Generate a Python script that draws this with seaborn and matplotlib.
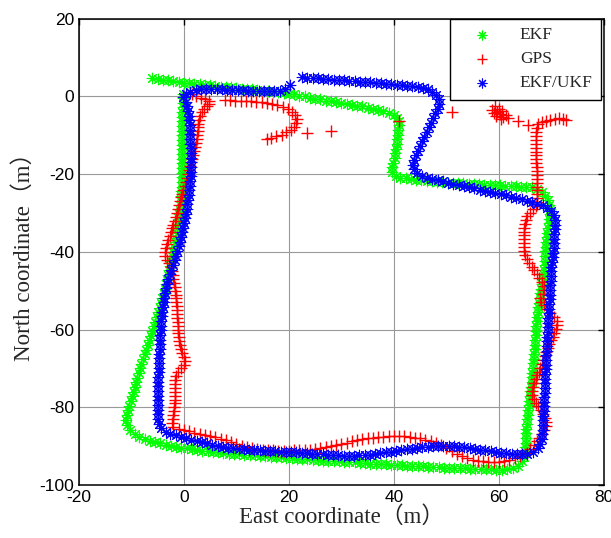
import matplotlib
matplotlib.use('Agg')
import matplotlib.pyplot as plt
import seaborn as sns

# EKF track (green)
ekf_east = [-6, -5, -4, -3, -2, -1, 0, 1, 2, 3, 4, 5, 6, 7, 8, 9, 10, 11, 12, 13, 14, 15, 16, 17, 18, 19, 20, 21, 22, 23,
            24, 25, 26, 27, 28, 29, 30, 31, 32, 33, 34, 35, 36, 37, 38, 39, 40, 40.6, 40.9,
            40.9, 40.8, 40.7, 40.6, 40.5, 40.4, 40.2, 40.1, 39.9, 39.7, 39.6,
            40.3, 41.2, 42.2, 43.2, 44.2, 45.2, 46.2, 47.2, 48.2, 49.2, 50.2, 51.2, 52.2, 53.2, 54.2, 55.2, 56.2, 57.2, 58.2,
            59.2, 60.2, 61.2, 62.2, 63.2, 64.2, 65.2, 66.2, 67.2,
            68.1, 68.8, 69.3, 69.6, 69.7, 69.7, 69.6, 69.5, 69.3, 69.2, 69.1, 69.0, 68.9, 68.8, 68.8, 68.7, 68.7, 68.6, 68.5, 68.3,
            68.2, 68.0, 67.9, 67.8, 67.6, 67.5, 67.4, 67.3, 67.2, 67.1, 67.1, 67.0, 66.9, 66.8, 66.8, 66.7, 66.6, 66.5, 66.4, 66.3,
            66.3, 66.2, 66.1, 66.0, 65.9, 65.8, 65.7, 65.6, 65.5, 65.4, 65.3, 65.2, 65.2, 65.1, 65.1, 65.0, 64.9, 64.7, 64.3, 63.6,
            62.6,
            61.5, 60.5, 59.5, 58.5, 57.5, 56.5, 55.5, 54.5, 53.5, 52.5, 51.5, 50.5, 49.5, 48.5, 47.5, 46.5, 45.5, 44.5, 43.5, 42.5,
            41.5, 40.5, 39.5, 38.5, 37.5, 36.5, 35.5, 34.5, 33.5, 32.5, 31.5, 30.5, 29.5, 28.5, 27.5, 26.5, 25.5, 24.5, 23.5, 22.5,
            21.5, 20.5, 19.5, 18.5, 17.5, 16.5, 15.5, 14.5, 13.5, 12.5, 11.5, 10.5, 9.5, 8.5, 7.5, 6.5, 5.5, 4.5, 3.5, 2.5,
            1.5, 0.5, -0.5, -1.5, -2.5, -3.5, -4.5, -5.5, -6.5, -7.5,
            -8.5, -9.4, -10.2, -10.8, -11.0, -10.9, -10.7, -10.4, -10.1, -9.9, -9.6, -9.4, -9.1, -8.9, -8.6, -8.3, -8.1, -7.8, -7.5, -7.2,
            -6.9, -6.6, -6.3, -6.0, -5.8, -5.5, -5.2, -4.9, -4.6, -4.4, -4.1, -3.9, -3.6, -3.4, -3.2, -3.0, -2.8, -2.6, -2.4, -2.2,
            -2.0, -1.9, -1.7, -1.6, -1.4, -1.3, -1.2, -1.0, -0.9, -0.8, -0.7, -0.6, -0.5, -0.5, -0.4, -0.4, -0.4, -0.4, -0.4, -0.4,
            -0.4, -0.4, -0.4, -0.4, -0.4, -0.4, -0.3, -0.3, -0.3, -0.3, -0.3, -0.2, -0.2, -0.2, -0.2]
ekf_north = [4.6, 4.4, 4.2, 4.1, 3.9, 3.7, 3.5, 3.4, 3.2, 3.1, 2.9, 2.8, 2.6, 2.5, 2.4, 2.3, 2.1, 2.0, 1.9, 1.8, 1.6, 1.5, 1.3, 1.2, 1.0, 0.9, 0.7, 0.5, 0.2, 0.0,
             -0.3, -0.6, -0.8, -1.1, -1.3, -1.5, -1.7, -1.9, -2.1, -2.4, -2.6, -2.9, -3.2, -3.5, -3.8, -4.3, -4.9, -5.5, -6.3,
             -7.5, -8.7, -9.9, -11.1, -12.3, -13.5, -14.7, -15.9, -17.1, -18.3, -19.4,
             -20.5, -20.9, -21.1, -21.3, -21.5, -21.6, -21.8, -21.9, -22.0, -22.1, -22.2, -22.2, -22.3, -22.4, -22.5, -22.5, -22.6, -22.7, -22.8,
             -22.8, -22.9, -23.0, -23.0, -23.1, -23.2, -23.3, -23.4, -23.8,
             -24.6, -25.6, -26.7, -27.9, -29.1, -30.3, -31.5, -32.7, -33.9, -35.1, -36.3, -37.5, -38.7, -39.9, -41.1, -42.3, -43.5, -44.7, -45.9, -47.1,
             -48.3, -49.5, -50.7, -51.9, -53.1, -54.3, -55.5, -56.7, -57.9, -59.1, -60.3, -61.5, -62.7, -63.9, -65.1, -66.3, -67.5, -68.7, -69.9, -71.1,
             -72.3, -73.5, -74.7, -75.9, -77.1, -78.3, -79.5, -80.7, -81.9, -83.1, -84.3, -85.5, -86.7, -87.9, -89.1, -90.3, -91.5, -92.7, -93.9, -95.0,
             -95.7,
             -96.0, -96.1, -96.1, -96.0, -96.0, -95.9, -95.9, -95.8, -95.7, -95.7, -95.6, -95.6, -95.5, -95.4, -95.3, -95.3, -95.2, -95.1, -95.0, -95.0,
             -94.9, -94.9, -94.8, -94.7, -94.6, -94.6, -94.5, -94.4, -94.3, -94.2, -94.1, -94.0, -93.9, -93.9, -93.8, -93.7, -93.6, -93.5, -93.4, -93.3,
             -93.2, -93.1, -93.0, -92.9, -92.8, -92.7, -92.6, -92.5, -92.4, -92.3, -92.2, -92.1, -92.0, -91.9, -91.7, -91.6, -91.5, -91.3, -91.2, -91.0,
             -90.8, -90.6, -90.4, -90.1, -89.9, -89.6, -89.3, -89.0, -88.6, -88.2,
             -87.6, -86.8, -85.8, -84.6, -83.3, -82.0, -80.8, -79.6, -78.4, -77.2, -76.0, -74.8, -73.6, -72.4, -71.2, -70.0, -68.8, -67.6, -66.4, -65.2,
             -64.0, -62.8, -61.6, -60.4, -59.2, -58.0, -56.8, -55.6, -54.4, -53.2, -52.0, -50.8, -49.6, -48.4, -47.2, -46.0, -44.8, -43.6, -42.4, -41.2,
             -40.0, -38.8, -37.6, -36.4, -35.2, -34.0, -32.8, -31.6, -30.4, -29.2, -28.0, -26.8, -25.6, -24.4, -23.2, -22.0, -20.8, -19.6, -18.4, -17.2,
             -16.0, -14.8, -13.6, -12.4, -11.2, -10.0, -8.8, -7.6, -6.4, -5.2, -4.0, -2.8, -1.6, -0.4, 0.6]

# GPS fixes (red)
gps_east = [1.5, 2.3, 3.2, 4.0, 4.7, 4.8, 4.4, 3.9, 3.4, 3.1, 2.9, 2.7, 2.7, 2.6, 2.5, 2.4, 2.3, 2.1, 2.0, 1.8,
            1.6, 1.4, 1.2, 1.0, 0.8, 0.5, 0.3, 0.1, -0.1, -0.3, -0.6, -0.8, -1.0, -1.2, -1.4, -1.6, -1.8, -2.0, -2.2, -2.5,
            -2.7, -3.0, -3.3, -3.5, -3.7, -3.6, -3.2, -2.8, -2.5, -2.3, -2.1, -2.0, -1.9, -1.8, -1.7, -1.6, -1.5, -1.5, -1.4, -1.4,
            -1.3, -1.3, -1.2, -1.2, -1.1, -1.1, -1.0, -1.0, -0.8, -0.6, -0.3, 0.0, 0.2, 0.0, -0.6, -1.1, -1.5, -1.7, -1.8, -1.8,
            -1.8, -1.8, -1.8, -1.8, -1.9, -1.9, -2.0, -2.1, -2.2, -2.1,
            -1, 0, 1, 2, 3, 4, 5, 6, 7, 8, 9, 10, 11, 12, 13, 14, 15, 16, 17, 18, 19, 20, 21, 22, 23, 24, 25, 26, 27, 28,
            29, 30, 31, 32, 33, 34, 35, 36, 37, 38, 39, 40, 41, 42, 43, 44, 45, 46, 47, 48, 49, 50, 51, 52, 53, 54, 55, 56, 57, 58,
            59, 60, 61, 62, 63, 64,
            65.4, 66.0, 66.6, 67.2, 67.7, 68.2, 68.6, 68.9, 69.0, 68.8, 68.4, 68.0, 67.5, 67.0, 66.6, 66.3, 66.2, 66.4, 66.7, 67.0,
            67.3, 67.6, 67.9, 68.2, 68.4, 68.7, 69.0, 69.3, 69.6, 69.9, 70.2, 70.5, 70.8, 71.1, 71.0, 70.4, 69.8, 69.1, 68.5, 68.0,
            67.9, 68.3, 68.6, 68.5, 68.2, 67.7, 67.2, 66.7, 66.2, 65.7, 65.3, 65.0, 64.8, 64.7, 64.7, 64.7, 64.7, 64.7, 64.8, 64.9,
            65.1, 65.4, 65.9, 66.5, 67.0, 67.2, 67.3, 67.3, 67.3, 67.3, 67.3, 67.2, 67.2, 67.2, 67.2, 67.1, 67.1, 67.1, 67.1, 67.1,
            67.1, 67.1, 67.1, 67.1, 67.2, 67.5, 68.2, 69.0, 69.8, 70.6, 71.4, 72.2, 72.8,
            58.6, 59.2, 59.6, 60.0, 60.2, 59.4, 60.8, 61.4, 60.6, 61.8, 59.0, 60.4, 63.7, 65.6, 51.1, 41.0, 28.0, 23.5,
            7.8, 8.8, 9.8, 10.8, 11.8, 12.8, 13.8, 14.8, 15.8, 16.8, 17.8, 18.8, 19.8, 20.6, 21.2, 21.5, 21.4, 21.0, 20.3, 19.5,
            18.6, 17.6, 16.6, 15.8]
gps_north = [0.6, 0.2, -0.3, -0.7, -1.2, -1.9, -2.6, -3.3, -4.1, -5.0, -6, -7, -8, -9, -10, -11, -12, -13, -14, -15,
             -16, -17, -18, -19, -20, -21, -22, -23, -24, -25, -26, -27, -28, -29, -30, -31, -32, -33, -34, -35,
             -36, -37, -38, -39, -40, -41, -42, -43, -44, -45, -46, -47, -48, -49, -50, -51, -52, -53, -54, -55,
             -56, -57, -58, -59, -60, -61, -62, -63, -64, -65, -66, -67, -68, -69, -70, -71, -72, -73, -74, -75,
             -76, -77, -78, -79, -80, -81, -82, -83, -84, -85,
             -85.6, -85.9, -86.2, -86.5, -86.8, -87.1, -87.4, -87.7, -88.1, -88.5, -89.0, -89.4, -89.9, -90.3, -90.6, -90.8, -90.9, -91.0, -91.1, -91.2,
             -91.2, -91.2, -91.1, -91.1, -91.0, -90.9, -90.7, -90.5, -90.3, -90.0, -89.7, -89.4, -89.1, -88.8, -88.5, -88.2, -88.0, -87.8, -87.7, -87.6,
             -87.5, -87.5, -87.5, -87.5, -87.6, -87.8, -88.0, -88.3, -88.7, -89.2, -89.8, -90.5, -91.3, -92.0, -92.6, -93.1, -93.5, -93.7, -93.9, -94.0,
             -94.0, -94.0, -93.8, -93.5, -93.1, -92.6,
             -91.8, -90.8, -89.8, -88.8, -87.8, -86.8, -85.8, -84.8, -83.8, -82.8, -81.8, -80.8, -79.8, -78.8, -77.8, -76.8, -75.8, -74.8, -73.8, -72.8,
             -71.8, -70.8, -69.8, -68.8, -67.8, -66.8, -65.8, -64.8, -63.8, -62.8, -61.8, -60.8, -59.8, -58.8, -57.8, -56.8, -55.8, -54.8, -53.8, -52.8,
             -51.8, -50.8, -49.8, -48.8, -47.8, -46.8, -45.8, -44.8, -43.8, -42.8, -41.8, -40.8, -39.8, -38.8, -37.8, -36.8, -35.8, -34.8, -33.8, -32.8,
             -31.8, -30.8, -29.9, -29.1, -28.2, -27.2, -26.2, -25.2, -24.2, -23.2, -22.2, -21.2, -20.2, -19.2, -18.2, -17.2, -16.2, -15.2, -14.2, -13.2,
             -12.2, -11.2, -10.2, -9.2, -8.2, -7.2, -6.6, -6.3, -6.0, -5.7, -5.6, -5.8, -6.1,
             -3.5, -2.6, -4.0, -3.2, -4.6, -5.0, -5.2, -4.8, -3.8, -5.6, -4.4, -5.8, -6.3, -7.4, -4.1, -6.3, -8.8, -9.5,
             -1.0, -1.0, -1.1, -1.1, -1.2, -1.3, -1.4, -1.5, -1.7, -2.0, -2.3, -2.8, -3.3, -4.0, -4.9, -5.9, -6.9, -7.8, -8.6, -9.3,
             -9.9, -10.3, -10.7, -11.0]

# EKF/UKF track (blue)
ukf_east = [0.3, 1.2, 2.2, 3.2, 4.2, 5.2, 6.2, 7.2, 8.2, 9.2, 10.2, 11.2, 12.2, 13.2, 14.2, 15.2, 16.2, 17.2, 18.2, 19.2, 20.2,
            22.5, 23.5, 24.5, 25.5, 26.5, 27.5, 28.5, 29.5, 30.5, 31.5, 32.5, 33.5, 34.5, 35.5, 36.5, 37.5, 38.5, 39.5, 40.5, 41.5,
            42.5, 43.5, 44.5, 45.5, 46.5, 47.3, 48.0, 48.6,
            48.6, 48.3, 47.9, 47.5, 47.1, 46.7, 46.3, 45.8, 45.4, 45.0, 44.6, 44.2, 43.8, 43.6, 43.8, 44.4, 45.3,
            46.3, 47.3, 48.3, 49.3, 50.3, 51.3, 52.3, 53.3, 54.3, 55.3, 56.3, 57.3, 58.3, 59.3, 60.3, 61.3, 62.3, 63.3, 64.3, 65.3,
            66.3, 67.3, 68.3, 69.2, 69.9, 70.4,
            70.6, 70.6, 70.6, 70.5, 70.5, 70.5, 70.4, 70.3, 70.2, 70.1, 70.0, 70.0, 69.9, 69.9, 69.8, 69.8, 69.7, 69.7, 69.6, 69.5,
            69.5, 69.4, 69.4, 69.3, 69.3, 69.2, 69.2, 69.1, 69.1, 69.0, 69.0, 68.9, 68.9, 68.8, 68.8, 68.8, 68.7, 68.7, 68.6, 68.6,
            68.5, 68.5, 68.4, 68.4, 68.3, 68.3, 68.2, 68.1, 67.9,
            67.4, 66.5, 65.4,
            64.4, 63.4, 62.4, 61.4, 60.4, 59.4, 58.4, 57.4, 56.4, 55.4, 54.4, 53.4, 52.4, 51.4, 50.4, 49.4, 48.4, 47.4, 46.4, 45.4,
            44.4, 43.4, 42.4, 41.4, 40.4, 39.4, 38.4, 37.4, 36.4, 35.4, 34.4, 33.4, 32.4, 31.4, 30.4, 29.4, 28.4, 27.4, 26.4, 25.4,
            24.4, 23.4, 22.4, 21.4, 20.4, 19.4, 18.4, 17.4, 16.4, 15.4, 14.4, 13.4, 12.4, 11.4, 10.4, 9.4, 8.4, 7.4, 6.4, 5.4,
            4.4, 3.4, 2.4, 1.4, 0.4, -0.6, -1.6, -2.6, -3.5,
            -4.3, -4.8,
            -5.0, -5.0, -5.0, -5.0, -5.0, -5.0, -4.9, -4.9, -4.9, -4.9, -4.8, -4.8, -4.8, -4.7, -4.7, -4.6, -4.6, -4.5, -4.5, -4.4,
            -4.4, -4.3, -4.2, -4.1, -4.0, -3.9, -3.8, -3.6, -3.4, -3.2, -3.0, -2.7, -2.4, -2.1, -1.8, -1.5, -1.3, -1.0, -0.8, -0.6,
            -0.4, -0.2, 0.0, 0.2, 0.3, 0.5, 0.6, 0.8, 0.9, 1.0, 1.1, 1.2, 1.3, 1.3, 1.3, 1.3, 1.3, 1.3, 1.3, 1.2,
            1.2, 1.2, 1.1, 1.1, 1.0, 1.0, 0.8, 0.6, 0.3, -0.1]
ukf_north = [0.6, 1.2, 1.7, 1.9, 1.9, 1.9, 1.8, 1.8, 1.7, 1.7, 1.6, 1.6, 1.5, 1.5, 1.4, 1.4, 1.3, 1.3, 1.5, 2.0, 2.8,
             4.9, 4.8, 4.7, 4.6, 4.5, 4.4, 4.3, 4.2, 4.1, 4.0, 3.9, 3.8, 3.7, 3.6, 3.5, 3.4, 3.3, 3.2, 3.0, 2.9,
             2.7, 2.6, 2.4, 2.2, 1.8, 1.2, 0.3, -0.8,
             -2.0, -3.2, -4.4, -5.6, -6.8, -8.0, -9.2, -10.4, -11.6, -12.8, -14.0, -15.2, -16.4, -17.6, -18.8, -19.8, -20.5,
             -20.9, -21.3, -21.6, -21.9, -22.2, -22.5, -22.8, -23.1, -23.4, -23.7, -24.0, -24.3, -24.6, -24.9, -25.2, -25.5, -25.8, -26.2, -26.5, -26.9,
             -27.2, -27.6, -28.0, -28.6, -29.5, -30.6,
             -31.8, -33.0, -34.2, -35.4, -36.6, -37.8, -39.0, -40.2, -41.4, -42.6, -43.8, -45.0, -46.2, -47.4, -48.6, -49.8, -51.0, -52.2, -53.4, -54.6,
             -55.8, -57.0, -58.2, -59.4, -60.6, -61.8, -63.0, -64.2, -65.4, -66.6, -67.8, -69.0, -70.2, -71.4, -72.6, -73.8, -75.0, -76.2, -77.4, -78.6,
             -79.8, -81.0, -82.2, -83.4, -84.6, -85.8, -87.0, -88.2, -89.4,
             -90.6, -91.5, -91.9,
             -92.0, -92.0, -91.9, -91.8, -91.7, -91.5, -91.3, -91.1, -90.9, -90.7, -90.5, -90.3, -90.2, -90.0, -90.0, -89.9, -89.9, -90.0, -90.1, -90.3,
             -90.5, -90.7, -90.8, -91.0, -91.2, -91.4, -91.6, -91.8, -92.0, -92.2, -92.3, -92.4, -92.5, -92.5, -92.5, -92.4, -92.3, -92.2, -92.1, -92.0,
             -91.9, -91.8, -91.7, -91.6, -91.5, -91.5, -91.4, -91.3, -91.2, -91.2, -91.1, -91.0, -90.9, -90.8, -90.7, -90.6, -90.4, -90.1, -89.9, -89.6,
             -89.3, -89.0, -88.6, -88.3, -87.9, -87.6, -87.2, -86.9, -86.3,
             -85.4, -84.2,
             -83.0, -81.8, -80.6, -79.4, -78.2, -77.0, -75.8, -74.6, -73.4, -72.2, -71.0, -69.8, -68.6, -67.4, -66.2, -65.0, -63.8, -62.6, -61.4, -60.2,
             -59.0, -57.8, -56.6, -55.4, -54.2, -53.0, -51.8, -50.6, -49.4, -48.2, -47.0, -45.8, -44.6, -43.4, -42.2, -41.0, -39.8, -38.6, -37.4, -36.2,
             -35.0, -33.8, -32.6, -31.4, -30.2, -29.0, -27.8, -26.6, -25.4, -24.2, -23.0, -21.8, -20.6, -19.4, -18.2, -17.0, -15.8, -14.6, -13.4, -12.2,
             -11.0, -9.8, -8.6, -7.4, -6.2, -5.0, -3.8, -2.6, -1.4, -0.2]

x_ticks = [-20, 0, 20, 40, 60, 80]
y_ticks = [-100, -80, -60, -40, -20, 0, 20]

sns.set_style('white')
plt.rcParams['axes.unicode_minus'] = False
plt.rcParams['font.family'] = ['Liberation Sans', 'DejaVu Sans']

fig = plt.figure(figsize=(6.11, 5.38), dpi=100)
ax = fig.add_axes([0.1293, 0.0985, 0.8592, 0.8669])

asterisk = (8, 2, 0)
sns.scatterplot(x=ekf_east, y=ekf_north, color='#00ff00', marker=asterisk, s=58, linewidth=0.8, label='EKF', ax=ax)
sns.scatterplot(x=gps_east, y=gps_north, color='#ff0000', marker='+', s=85, linewidth=1.0, label='GPS', ax=ax)
sns.scatterplot(x=ukf_east, y=ukf_north, color='#0000ff', marker=asterisk, s=58, linewidth=0.8, label='EKF/UKF', ax=ax)

ax.set_xlim(x_ticks[0], x_ticks[-1])
ax.set_ylim(y_ticks[0], y_ticks[-1])
ax.set_xticks(x_ticks)
ax.set_yticks(y_ticks)
ax.grid(True, color='0.6', linewidth=0.8, linestyle='-')
ax.set_axisbelow(True)
ax.tick_params(direction='in', top=True, right=True, length=4, width=1, labelsize=12.5, colors='black')
for sp in ax.spines.values():
    sp.set_color('black')
    sp.set_linewidth(1.1)

lab_font = ['Liberation Serif', 'Noto Sans CJK SC']
ax.set_xlabel('East coordinate（m）', family=lab_font, fontsize=16.5, labelpad=1)
ax.set_ylabel('North coordinate（m）', family=lab_font, fontsize=16.5, labelpad=3)

leg = ax.legend(loc='upper right', bbox_to_anchor=(0.995, 1.0), borderaxespad=0, fancybox=False,
                edgecolor='black', framealpha=1, borderpad=0.5, handlelength=2.6, handletextpad=0.9,
                labelspacing=0.45, markerscale=0.85, prop={'family': 'Liberation Serif', 'size': 12.5})
leg.get_frame().set_linewidth(1.0)

fig.savefig('out.png', dpi=100)
